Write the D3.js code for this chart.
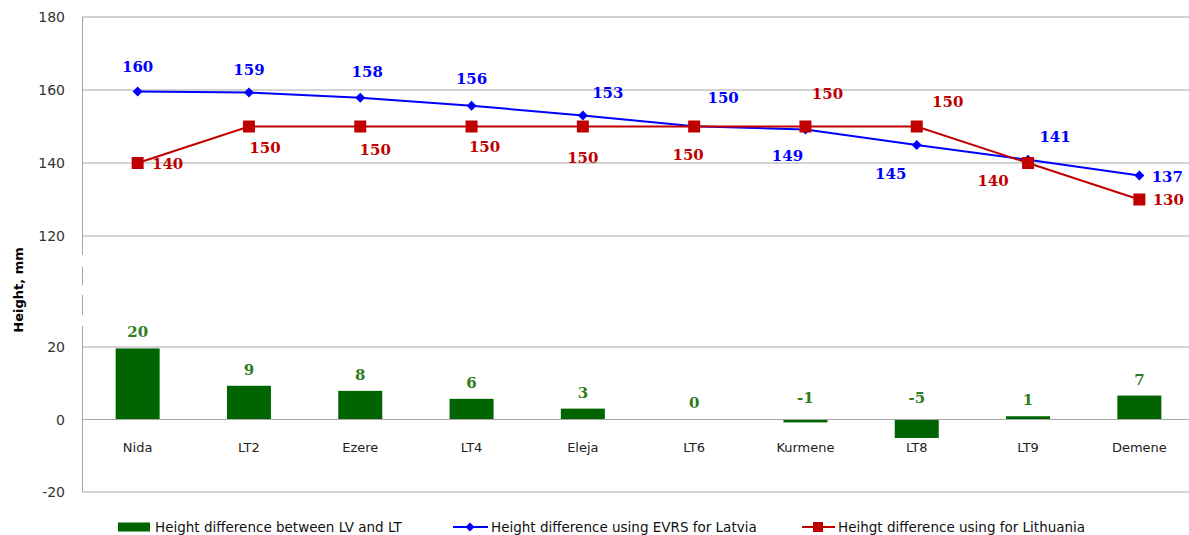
<!DOCTYPE html>
<html>
<head>
<meta charset="utf-8">
<script src="https://cdn.jsdelivr.net/npm/d3@7"></script>
<style>
  body { margin: 0; background: #fff; }
  svg text { font-family: "DejaVu Sans", sans-serif; }
</style>
</head>
<body>
<div id="chart"></div>
<script>
// data
const sites = ["Nida", "LT2", "Ezere", "LT4", "Eleja", "LT6", "Kurmene", "LT8", "LT9", "Demene"];
const evrsLatvia = [159.6, 159.3, 157.9, 155.7, 153.0, 150.1, 149.2, 144.9, 140.9, 136.6];
const lithuania = [140, 150, 150, 150, 150, 150, 150, 150, 140, 130];
const diffLvLt = [19.6, 9.3, 7.9, 5.7, 3.0, 0.1, -0.8, -5.1, 0.9, 6.6];
const topTicks = [120, 140, 160, 180];
const bottomTicks = [-20, 0, 20];
const legendNames = ["Height difference between LV and LT", "Height difference using EVRS for Latvia", "Heihgt difference using for Lithuania"];

// label nudges (px), like the hand-placed labels in the original
const blueNudge = [[0, -24], [0, -23], [7, -26], [0, -27], [25, -23], [29, -28], [-18, 27], [-26, 29], [27, -23], [28, 2]];
const redNudge = [[30, 1], [16, 21], [15, 23], [13, 20], [0, 31], [-6, 28], [22, -33], [31, -25], [-35, 18], [29, 0]];

const W = 1189, H = 535;
const left = 82, right = 1195;

const svg = d3.select("#chart").append("svg")
    .attr("width", W)
    .attr("height", H);

const x = d3.scaleBand()
    .domain(sites)
    .range([left, right]);

const yTop = d3.scaleLinear().domain([120, 180]).range([236, 17]);
const yBot = d3.scaleLinear().domain([-20, 20]).range([492, 347]);

const gridColor = "#a6a6a6";

// gridlines
svg.append("g").selectAll("line")
    .data(topTicks)
    .join("line")
    .attr("x1", left).attr("x2", right)
    .attr("y1", d => yTop(d)).attr("y2", d => yTop(d))
    .attr("stroke", gridColor);

svg.append("g").selectAll("line")
    .data(bottomTicks)
    .join("line")
    .attr("x1", left).attr("x2", right)
    .attr("y1", d => yBot(d)).attr("y2", d => yBot(d))
    .attr("stroke", gridColor);

// vertical axis, broken between the two panels
const axisSegs = [[yTop(180), 255], [267, 285], [295, 315], [326, yBot(-20)]];
svg.append("g").selectAll("line")
    .data(axisSegs)
    .join("line")
    .attr("x1", left + 0.5).attr("x2", left + 0.5)
    .attr("y1", d => d[0]).attr("y2", d => d[1])
    .attr("stroke", gridColor);

// tick labels
svg.append("g").selectAll("text")
    .data(topTicks)
    .join("text")
    .attr("x", 65).attr("y", d => yTop(d))
    .attr("text-anchor", "end")
    .attr("dominant-baseline", "central")
    .style("font-size", "14px")
    .attr("fill", "#333")
    .text(d => d);

svg.append("g").selectAll("text")
    .data(bottomTicks)
    .join("text")
    .attr("x", 65).attr("y", d => yBot(d))
    .attr("text-anchor", "end")
    .attr("dominant-baseline", "central")
    .style("font-size", "14px")
    .attr("fill", "#333")
    .text(d => d);

// axis title
svg.append("text")
    .attr("transform", "translate(18,290) rotate(-90)")
    .attr("text-anchor", "middle")
    .attr("dominant-baseline", "central")
    .style("font-size", "13px")
    .style("font-weight", "bold")
    .text("Height, mm");

// bars
const barW = 44;
const cx = d => x(d) + x.bandwidth() / 2;

svg.append("g").selectAll("rect")
    .data(diffLvLt)
    .join("rect")
    .attr("x", (d, i) => cx(sites[i]) - barW / 2)
    .attr("y", d => yBot(Math.max(0, d)))
    .attr("width", barW)
    .attr("height", d => Math.abs(yBot(d) - yBot(0)))
    .attr("fill", "#006400");

// redraw zero line on top of bars
svg.append("line")
    .attr("x1", left).attr("x2", right)
    .attr("y1", yBot(0)).attr("y2", yBot(0))
    .attr("stroke", gridColor);

svg.append("g").selectAll("text")
    .data(diffLvLt)
    .join("text")
    .attr("x", (d, i) => cx(sites[i]))
    .attr("y", d => yBot(Math.max(0, d)) - (d < 0 ? 22 : 16))
    .attr("text-anchor", "middle")
    .attr("dominant-baseline", "central")
    .style("font-family", "'DejaVu Serif', serif")
    .style("font-size", "15px")
    .style("font-weight", "bold")
    .attr("fill", "#2f7d1c")
    .text(d => Math.round(d));

// category labels
svg.append("g").selectAll("text")
    .data(sites)
    .join("text")
    .attr("x", d => cx(d))
    .attr("y", 447)
    .attr("text-anchor", "middle")
    .attr("dominant-baseline", "central")
    .style("font-size", "13px")
    .attr("fill", "#222")
    .text(d => d);

// lines
const blue = "#0000ff", red = "#c00000";
const line = d3.line()
    .x((d, i) => cx(sites[i]))
    .y(d => yTop(d));

svg.append("path")
    .datum(evrsLatvia)
    .attr("d", line)
    .attr("fill", "none")
    .attr("stroke", blue)
    .attr("stroke-width", 2);

svg.append("path")
    .datum(lithuania)
    .attr("d", line)
    .attr("fill", "none")
    .attr("stroke", red)
    .attr("stroke-width", 2);

// square-ish diamond marker
const diamondPath = r => `M0,${-r}L${r},0L0,${r}L${-r},0Z`;

svg.append("g").selectAll("path")
    .data(evrsLatvia)
    .join("path")
    .attr("transform", (d, i) => `translate(${cx(sites[i])},${yTop(d)})`)
    .attr("d", diamondPath(5))
    .attr("fill", blue);

svg.append("g").selectAll("rect")
    .data(lithuania)
    .join("rect")
    .attr("x", (d, i) => cx(sites[i]) - 6)
    .attr("y", d => yTop(d) - 6)
    .attr("width", 12).attr("height", 12)
    .attr("fill", red);

// value labels
const labelStyle = sel => sel
    .attr("text-anchor", "middle")
    .attr("dominant-baseline", "central")
    .style("font-family", "'DejaVu Serif', serif")
    .style("font-size", "15px")
    .style("font-weight", "bold");

svg.append("g").selectAll("text")
    .data(evrsLatvia)
    .join("text")
    .attr("x", (d, i) => cx(sites[i]) + blueNudge[i][0])
    .attr("y", (d, i) => yTop(d) + blueNudge[i][1])
    .call(labelStyle)
    .attr("fill", blue)
    .text(d => Math.round(d));

svg.append("g").selectAll("text")
    .data(lithuania)
    .join("text")
    .attr("x", (d, i) => cx(sites[i]) + redNudge[i][0])
    .attr("y", (d, i) => yTop(d) + redNudge[i][1])
    .call(labelStyle)
    .attr("fill", red)
    .text(d => d);

// legend
const legend = svg.append("g").style("font-size", "13.5px").attr("fill", "#111");
const ly = 527;

legend.append("rect")
    .attr("x", 118).attr("y", ly - 4.5)
    .attr("width", 32).attr("height", 9)
    .attr("fill", "#006400");
legend.append("text")
    .attr("x", 155).attr("y", ly)
    .attr("dominant-baseline", "central")
    .text(legendNames[0]);

legend.append("line")
    .attr("x1", 453).attr("x2", 488)
    .attr("y1", ly).attr("y2", ly)
    .attr("stroke", blue).attr("stroke-width", 2);
legend.append("path")
    .attr("transform", `translate(470,${ly})`)
    .attr("d", diamondPath(4.5))
    .attr("fill", blue);
legend.append("text")
    .attr("x", 491).attr("y", ly)
    .attr("dominant-baseline", "central")
    .text(legendNames[1]);

legend.append("line")
    .attr("x1", 802).attr("x2", 835)
    .attr("y1", ly).attr("y2", ly)
    .attr("stroke", red).attr("stroke-width", 2);
legend.append("rect")
    .attr("x", 813).attr("y", ly - 5)
    .attr("width", 10).attr("height", 10)
    .attr("fill", red);
legend.append("text")
    .attr("x", 838).attr("y", ly)
    .attr("dominant-baseline", "central")
    .text(legendNames[2]);
</script>
</body>
</html>
